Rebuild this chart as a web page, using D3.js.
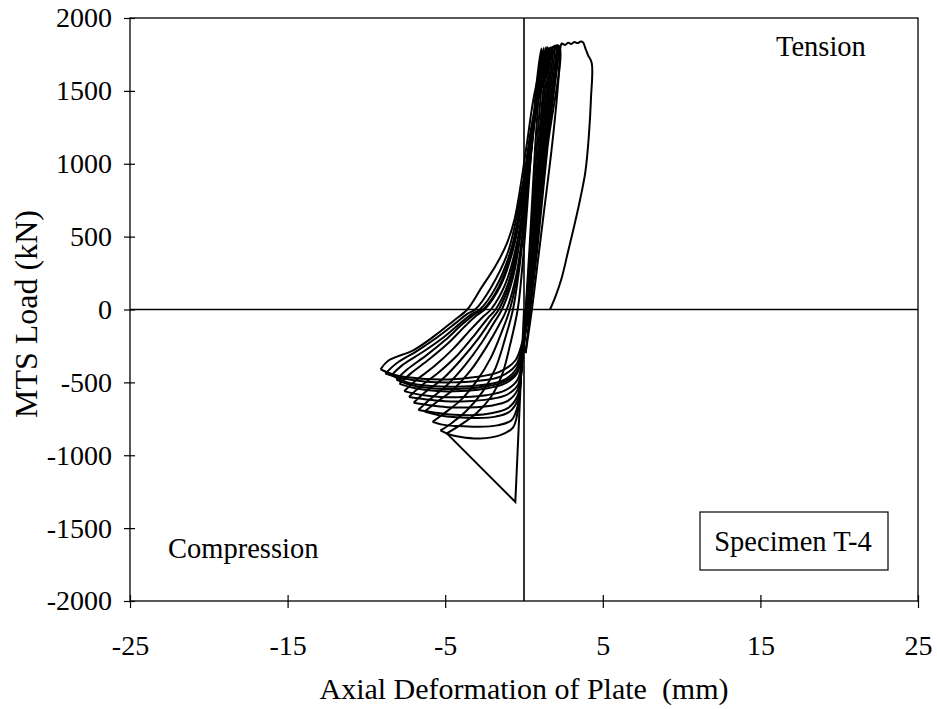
<!DOCTYPE html>
<html>
<head>
<meta charset="utf-8">
<script src="https://cdn.jsdelivr.net/npm/d3@7/dist/d3.min.js"></script>
<style>
  html, body { margin: 0; padding: 0; background: #fff; }
  svg { display: block; }
  text { font-family: "Liberation Serif", "Times New Roman", serif; fill: #000; }
</style>
</head>
<body>
<svg id="chart" width="937" height="709"></svg>
<script>
// ---------- data ----------
const xTicks = [-25, -15, -5, 5, 15, 25];
const yTicks = [-2000, -1500, -1000, -500, 0, 500, 1000, 1500, 2000];
const xLabel = "Axial Deformation of Plate  (mm)";
const yLabel = "MTS Load (kN)";
const tensionLabel = "Tension";
const compressionLabel = "Compression";
const specimenLabel = "Specimen T-4";

// initial compression to buckling (deformation mm, load kN)
const initialBranch = [[0,0],[-0.2,-480],[-0.4,-960],[-0.55,-1320],[-4.9,-850]];

// each cycle: reloading from compression tip -> tension peak -> unloading -> compression to next tip
const cycle1 = [[-4.9,-850],[-4.0,-790],[-3.0,-710],[-2.1,-600],[-1.4,-450],[-0.9,-250],[-0.4,0],[-0.1,300],[0.2,700],[0.5,1150],[0.8,1550],[1.1,1790],
  [0.7,1100],[0.35,420],[0.1,0],[-0.15,-400],[-0.4,-700],[-0.7,-810],[-1.5,-862],[-2.8,-885],[-4.0,-875],[-4.8,-855],[-5.3,-830]];
const cycle2 = [[-5.3,-830],[-4.6,-780],[-3.6,-690],[-2.6,-560],[-1.8,-400],[-1.2,-200],[-0.7,0],[-0.3,280],[0.1,680],[0.5,1150],[0.9,1580],[1.25,1795],
  [0.8,1100],[0.4,420],[0.12,0],[-0.15,-390],[-0.4,-660],[-0.8,-760],[-1.7,-795],[-2.9,-805],[-4.2,-800],[-5.2,-790],[-5.8,-770]];
const cycle3 = [[-5.8,-770],[-5.1,-715],[-4.0,-620],[-3.0,-490],[-2.1,-330],[-1.4,-150],[-0.9,0],[-0.4,250],[0.05,640],[0.5,1120],[1.0,1580],[1.4,1800],
  [0.9,1100],[0.46,420],[0.15,0],[-0.15,-380],[-0.4,-620],[-0.9,-700],[-1.8,-735],[-3.0,-745],[-4.3,-740],[-5.4,-725],[-6.3,-700]];
const cycle4 = [[-6.3,-700],[-5.6,-640],[-4.5,-550],[-3.4,-420],[-2.4,-260],[-1.6,-110],[-1.1,0],[-0.5,230],[0.0,600],[0.45,1080],[1.0,1570],[1.5,1800],
  [0.97,1100],[0.51,420],[0.18,0],[-0.1,-350],[-0.4,-590],[-1.0,-675],[-2.0,-710],[-3.3,-725],[-4.7,-720],[-5.8,-705],[-6.7,-690]];
const cycle5 = [[-6.7,-690],[-6.0,-620],[-4.9,-520],[-3.8,-390],[-2.7,-230],[-1.9,-90],[-1.4,0],[-0.7,220],[-0.1,600],[0.4,1080],[1.0,1560],[1.6,1795],
  [1.04,1100],[0.55,420],[0.2,0],[-0.1,-340],[-0.4,-550],[-1.0,-625],[-2.1,-660],[-3.5,-672],[-4.9,-670],[-6.1,-655],[-7.0,-640]];
const cycle6 = [[-7.0,-640],[-6.3,-570],[-5.1,-470],[-4.0,-345],[-2.9,-200],[-2.1,-75],[-1.6,0],[-0.85,200],[-0.2,560],[0.35,1040],[1.0,1540],[1.7,1800],
  [1.11,1100],[0.59,420],[0.22,0],[-0.1,-330],[-0.4,-520],[-1.1,-585],[-2.2,-615],[-3.6,-630],[-5.0,-630],[-6.3,-615],[-7.3,-600]];
const cycle7 = [[-7.3,-600],[-6.6,-530],[-5.4,-430],[-4.2,-310],[-3.1,-170],[-2.3,-60],[-1.8,0],[-1.0,180],[-0.3,520],[0.3,1000],[1.0,1520],[1.8,1800],
  [1.18,1100],[0.64,420],[0.25,0],[-0.1,-300],[-0.4,-480],[-1.2,-555],[-2.4,-588],[-3.8,-600],[-5.3,-600],[-6.6,-585],[-7.6,-560]];
const cycle8 = [[-7.6,-560],[-6.9,-490],[-5.7,-390],[-4.5,-270],[-3.4,-140],[-2.6,-50],[-2.1,0],[-1.2,170],[-0.4,480],[0.2,950],[1.0,1500],[1.9,1805],
  [1.25,1100],[0.68,420],[0.27,0],[-0.1,-280],[-0.45,-440],[-1.3,-512],[-2.6,-545],[-4.0,-560],[-5.5,-560],[-6.9,-540],[-7.9,-510]];
const cycle9 = [[-7.9,-510],[-7.2,-440],[-6.0,-340],[-4.8,-230],[-3.7,-110],[-3.0,-40],[-2.5,0],[-1.5,160],[-0.6,450],[0.1,900],[1.0,1480],[2.0,1800],
  [1.32,1100],[0.72,420],[0.3,0],[-0.1,-270],[-0.45,-425],[-1.35,-500],[-2.7,-532],[-4.2,-545],[-5.7,-542],[-7.1,-520],[-8.1,-480]];
const cycle10 = [[-8.1,-480],[-7.4,-410],[-6.2,-315],[-5.0,-210],[-3.9,-100],[-3.1,-30],[-2.6,0],[-1.6,155],[-0.7,435],[0.05,885],[0.95,1470],[2.05,1805],
  [1.35,1100],[0.74,420],[0.3,0],[-0.1,-260],[-0.5,-410],[-1.4,-490],[-2.8,-520],[-4.3,-530],[-5.9,-525],[-7.4,-500],[-8.4,-450]];
const cycle11 = [[-8.4,-450],[-7.7,-380],[-6.4,-290],[-5.1,-190],[-4.0,-90],[-3.3,-30],[-2.8,0],[-1.8,150],[-0.8,420],[0.0,870],[0.9,1450],[2.1,1805],
  [1.39,1100],[0.77,420],[0.32,0],[-0.1,-240],[-0.5,-380],[-1.5,-460],[-3.0,-490],[-4.6,-500],[-6.2,-495],[-7.8,-470],[-8.8,-440]];
const cycle12 = [[-8.8,-440],[-8.1,-370],[-6.8,-285],[-5.5,-190],[-4.3,-90],[-3.6,-30],[-3.1,0],[-2.1,150],[-1.0,400],[-0.1,850],[0.8,1430],[2.15,1810],
  [1.43,1100],[0.8,420],[0.35,0],[-0.1,-220],[-0.55,-350],[-1.6,-430],[-3.2,-465],[-4.8,-480],[-6.5,-475],[-8.2,-450],[-9.1,-410]];
const cycle13 = [[-9.1,-410],[-8.6,-350],[-7.0,-278],[-5.7,-183],[-4.5,-80],[-3.6,0],[-2.7,150],[-1.8,300],[-1.1,450],[-0.6,620],[-0.2,860],[0.2,1150],[0.7,1500],[1.4,1760],[2.2,1810],
  [1.48,1100],[0.85,420],[0.4,0],[0.1,-300]];
// final tension excursion and unloading
const finalBranch = [[0.1,-300],[0.5,0],[0.9,350],[1.3,700],[1.7,1050],[2.0,1350],[2.2,1600],[2.3,1790],[2.4,1825],[2.6,1815],[2.8,1830],[3.0,1822],[3.2,1835],[3.4,1828],[3.6,1838],[3.75,1832],
  [3.9,1790],[4.06,1746],[4.3,1690],[4.25,1450],[4.12,1200],[3.9,950],[3.55,750],[3.2,580],[2.8,400],[2.4,220],[2.0,90],[1.65,0]];

const cycles = [cycle1, cycle2, cycle3, cycle4, cycle5, cycle6, cycle7, cycle8, cycle9, cycle10, cycle11, cycle12, cycle13, finalBranch];

// ---------- layout ----------
const svg = d3.select("#chart");
const L = 130, R = 918, T = 18, B = 601;
const x = d3.scaleLinear().domain([-25, 25]).range([L, R]);
const y = d3.scaleLinear().domain([-2000, 2000]).range([B, T]);
const fsTick = 28, fsNote = 28.5, fsXTitle = 30, fsYTitle = 32;

// frame
svg.append("rect").attr("x", L).attr("y", T).attr("width", R - L).attr("height", B - T)
  .attr("fill", "none").attr("stroke", "#000").attr("stroke-width", 1.3);

// zero lines
svg.append("line").attr("x1", x(0)).attr("x2", x(0)).attr("y1", T).attr("y2", B)
  .attr("stroke", "#000").attr("stroke-width", 1.6);
svg.append("line").attr("x1", L).attr("x2", R).attr("y1", y(0)).attr("y2", y(0))
  .attr("stroke", "#000").attr("stroke-width", 1.6);

// axes
const yAxis = svg.append("g").attr("transform", `translate(${L},0)`)
  .call(d3.axisLeft(y).tickValues(yTicks).tickFormat(d3.format("d")).tickSize(6).tickPadding(12));
const xAxis = svg.append("g").attr("transform", `translate(0,${B})`)
  .call(d3.axisBottom(x).tickValues(xTicks).tickFormat(d3.format("d")).tickSize(6).tickPadding(28));
[yAxis, xAxis].forEach(g => {
  g.select(".domain").remove();
  g.selectAll("text").style("font-family", '"Liberation Serif", serif').style("font-size", fsTick + "px");
});
yAxis.selectAll(".tick line").attr("x1", 5).attr("x2", -6).attr("stroke-width", 1.2);
xAxis.selectAll(".tick line").attr("y1", -6).attr("y2", 7).attr("stroke-width", 1.2);
xAxis.selectAll(".tick text").text(d => String(d));
yAxis.selectAll(".tick text").text(d => String(d));

// curves
const straight = d3.line().x(d => x(d[0])).y(d => y(d[1])).curve(d3.curveLinear);
svg.append("path").datum(initialBranch).attr("d", straight)
  .attr("fill", "none").attr("stroke", "#000").attr("stroke-width", 2);
const smooth = d3.line().x(d => x(d[0])).y(d => y(d[1])).curve(d3.curveCatmullRom.alpha(0.5));
svg.append("g").selectAll("path").data(cycles).join("path")
  .attr("d", smooth)
  .attr("fill", "none").attr("stroke", "#000").attr("stroke-width", 2).attr("stroke-linejoin", "round");

// annotations
svg.append("text").attr("x", 776).attr("y", 56).style("font-size", fsNote + "px").text(tensionLabel);
svg.append("text").attr("x", 168).attr("y", 558).style("font-size", fsNote + "px").text(compressionLabel);
svg.append("rect").attr("x", 700).attr("y", 512).attr("width", 188).attr("height", 58)
  .attr("fill", "#fff").attr("stroke", "#000").attr("stroke-width", 1.2);
svg.append("text").attr("x", 793).attr("y", 551).attr("text-anchor", "middle").style("font-size", fsNote + "px").text(specimenLabel);

// axis titles
svg.append("text").attr("x", 524).attr("y", 699).attr("text-anchor", "middle")
  .style("font-size", fsXTitle + "px").style("white-space", "pre").text(xLabel);
svg.append("text").attr("transform", "translate(37,314) rotate(-90)").attr("text-anchor", "middle")
  .style("font-size", fsYTitle + "px").text(yLabel);
</script>
</body>
</html>
